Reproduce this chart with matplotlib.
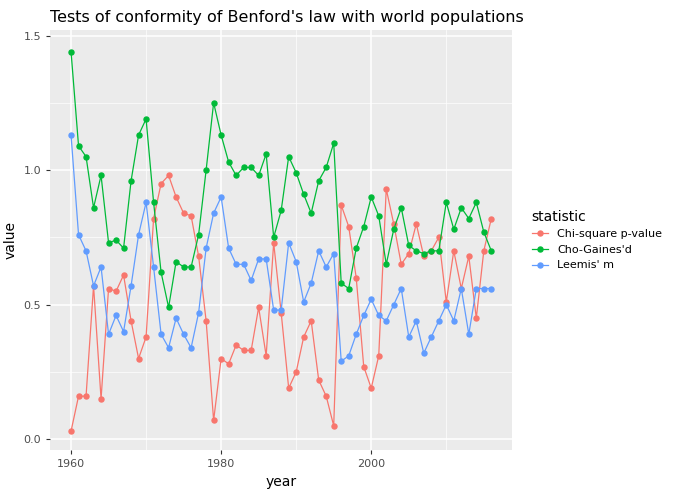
import matplotlib
matplotlib.use('Agg')
import matplotlib.pyplot as plt

years = list(range(1960, 2017))
chi_square = [.03, .16, .16, .57, .15, .56, .55, .61, .44, .30,
              .38, .82, .95, .98, .90, .84, .83, .68, .44, .07,
              .30, .28, .35, .33, .33, .49, .31, .73, .47, .19,
              .25, .38, .44, .22, .16, .05, .87, .79, .60, .27,
              .19, .31, .93, .80, .65, .69, .80, .68, .70, .75,
              .51, .70, .56, .68, .45, .70, .82]
cho_gaines = [1.44, 1.09, 1.05, .86, .98, .73, .74, .71, .96, 1.13,
              1.19, .88, .62, .49, .66, .64, .64, .76, 1.00, 1.25,
              1.13, 1.03, .98, 1.01, 1.01, .98, 1.06, .75, .85, 1.05,
              .99, .91, .84, .96, 1.01, 1.10, .58, .56, .71, .79,
              .90, .83, .65, .78, .86, .72, .70, .69, .70, .70,
              .88, .78, .86, .82, .88, .77, .70]
leemis = [1.13, .76, .70, .57, .64, .39, .46, .40, .57, .76,
          .88, .64, .39, .34, .45, .39, .34, .47, .71, .84,
          .90, .71, .65, .65, .59, .67, .67, .48, .48, .73,
          .66, .51, .58, .70, .64, .69, .29, .31, .39, .46,
          .52, .46, .44, .50, .56, .38, .44, .32, .38, .44,
          .50, .44, .56, .39, .56, .56, .56]

series = [("Chi-square p-value", chi_square, "#F8766D"),
          ("Cho-Gaines'd", cho_gaines, "#00BA38"),
          ("Leemis' m", leemis, "#619CFF")]

fig = plt.figure(figsize=(6.9, 4.94), dpi=100)
ax = fig.add_axes([0.0725, 0.089, 0.67, 0.85])
ax.set_facecolor('#EBEBEB')

for name, vals, col in series:
    ax.plot(years, vals, color=col, lw=0.9, marker='o', ms=3.6, label=name)

ax.set_xlim(1957.2, 2018.8)
ax.set_ylim(-0.04, 1.52)
ax.set_xticks([1960, 1980, 2000])
ax.set_yticks([0.0, 0.5, 1.0, 1.5])
ax.set_yticklabels(['0.0', '0.5', '1.0', '1.5'])
ax.set_xticks([1970, 1990, 2010], minor=True)
ax.set_yticks([0.25, 0.75, 1.25], minor=True)
ax.grid(which='major', color='white', lw=1.1)
ax.grid(which='minor', color='white', lw=0.5)
ax.set_axisbelow(True)
for s in ax.spines.values():
    s.set_visible(False)
ax.tick_params(which='major', colors='#333333', labelcolor='#4D4D4D', labelsize=8, length=3)
ax.tick_params(which='minor', length=0)
ax.set_xlabel('year', fontsize=10)
ax.set_ylabel('value', fontsize=10)
ax.set_title("Tests of conformity of Benford's law with world populations", fontsize=11.5, loc='left', x=0.0)

leg = ax.legend(title='statistic', loc='center left', bbox_to_anchor=(1.02, 0.5),
                frameon=False, fontsize=8, title_fontsize=10, handlelength=1.5)
leg._legend_box.align = 'left'

fig.savefig('out.png')
